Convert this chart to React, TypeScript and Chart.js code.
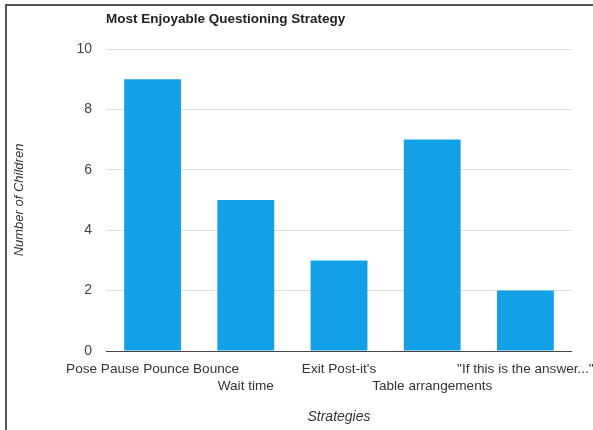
import React, { useEffect, useRef } from "react";
import { Chart, registerables } from "chart.js";

Chart.register(...registerables);

const categories: (string | string[])[] = [
  ["Pose Pause Pounce Bounce"],
  ["", "Wait time"],
  ["Exit Post-it's"],
  ["", "Table arrangements"],
  ["\"If this is the answer...\""],
];
const childCounts = [9, 5, 3, 7, 2];
const yTicks = [0, 2, 4, 6, 8, 10];

const FONT = "'Liberation Sans', Arial, sans-serif";
const BAR_BLUE = "#12a0e6";

export default function App() {
  const canvasRef = useRef<HTMLCanvasElement | null>(null);

  useEffect(() => {
    if (!canvasRef.current) return;
    const chart = new Chart(canvasRef.current, {
      type: "bar",
      data: {
        labels: categories,
        datasets: [
          {
            label: "Number of Children",
            data: childCounts,
            backgroundColor: BAR_BLUE,
            borderWidth: 0,
            categoryPercentage: 1,
            barPercentage: 0.61,
          },
        ],
      },
      options: {
        responsive: false,
        animation: false,
        layout: { padding: { left: 0, right: 21, top: 0, bottom: 0 } },
        plugins: {
          legend: { display: false },
          tooltip: { enabled: false },
          title: {
            display: true,
            text: "Most Enjoyable Questioning Strategy",
            align: "start",
            fullSize: false,
            color: "#222",
            font: { family: FONT, size: 13.5, weight: "bold", lineHeight: 1.2 },
            padding: { top: 11, bottom: 21.8 },
          },
        },
        scales: {
          x: {
            grid: { display: false },
            border: { display: false },
            ticks: {
              autoSkip: false,
              maxRotation: 0,
              minRotation: 0,
              padding: 2,
              color: "#333",
              font: { family: FONT, size: 13.6, lineHeight: 1.24 },
            },
            title: {
              display: true,
              text: "Strategies",
              color: "#333",
              font: { family: FONT, size: 14, style: "italic", lineHeight: 1.2 },
              padding: { top: 0, bottom: 4 },
            },
            afterFit: (scale: any) => {
              scale.height = 79;
              scale.paddingLeft = 0;
              scale.paddingRight = 0;
            },
          },
          y: {
            min: 0,
            max: 10,
            afterBuildTicks: (scale: any) => {
              scale.ticks = yTicks.map((v) => ({ value: v }));
            },
            grid: {
              drawTicks: false,
              color: (ctx: any) => (ctx.tick && ctx.tick.value === 0 ? "#444" : "#dedede"),
              lineWidth: 1,
            },
            border: { display: false },
            ticks: {
              padding: 14,
              color: "#444",
              font: { family: FONT, size: 14 },
            },
            title: {
              display: true,
              text: "Number of Children",
              color: "#333",
              font: { family: FONT, size: 13, style: "italic", lineHeight: 1.2 },
              padding: { top: 12, bottom: 0 },
            },
            afterFit: (scale: any) => {
              scale.width = 106;
            },
          },
        },
      },
    });
    return () => chart.destroy();
  }, []);

  return (
    <div
      style={{
        position: "fixed",
        left: 0,
        top: 0,
        width: 593,
        height: 430,
        background: "#fff",
        overflow: "hidden",
      }}
    >
      <div
        style={{
          position: "absolute",
          left: 5,
          top: 4,
          right: 0,
          bottom: 0,
          borderLeft: "2px solid #555",
          borderTop: "2px solid #555",
        }}
      />
      <canvas
        ref={canvasRef}
        width={593}
        height={430}
        style={{ position: "absolute", left: 0, top: 0 }}
      />
    </div>
  );
}
